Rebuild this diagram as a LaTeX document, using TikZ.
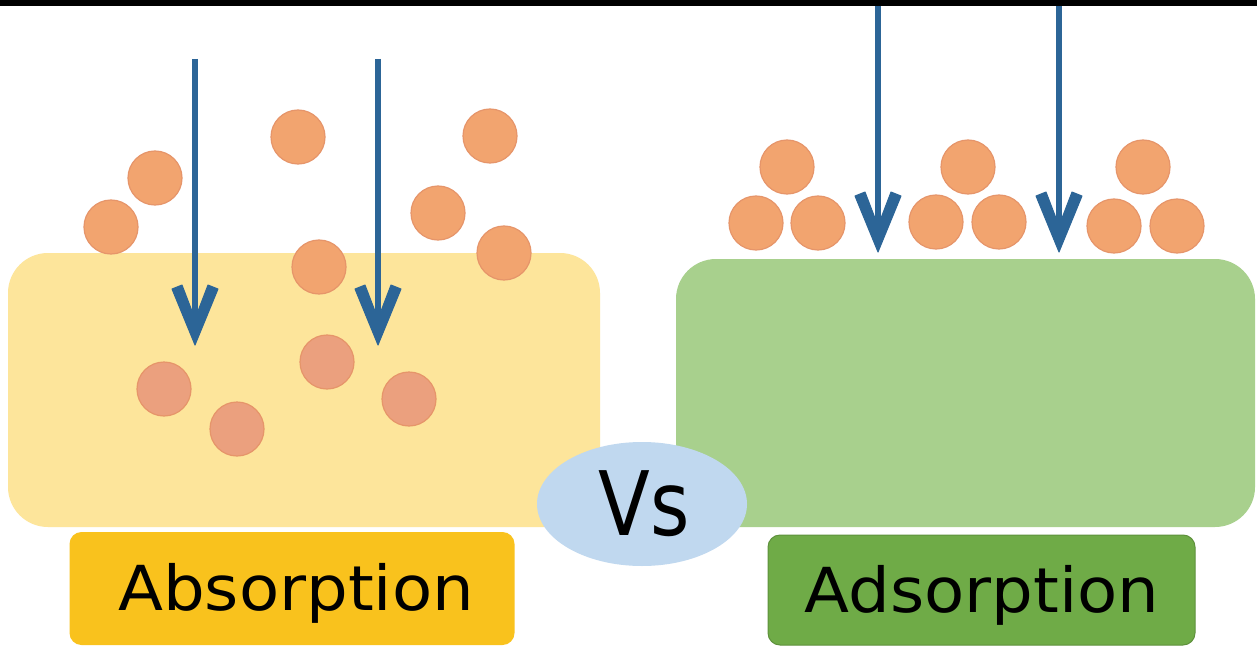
\documentclass[tikz,border=0pt]{standalone}
\usepackage{fontspec}
\setmainfont{DejaVu Sans}
\usetikzlibrary{shapes.geometric}
\definecolor{pale}{HTML}{FDE59B}
\definecolor{palegreen}{HTML}{A8D08D}
\definecolor{labyellow}{HTML}{F9C21D}
\definecolor{labgreen}{HTML}{6FAB47}
\definecolor{ballc}{HTML}{F2A46F}
\definecolor{ballin}{HTML}{EBA07E}
\definecolor{ballline}{HTML}{E6956A}
\definecolor{arrowc}{HTML}{2C6597}
\definecolor{vsblue}{HTML}{C0D8EF}
\tikzset{
  ball/.style={circle, fill=ballc, draw=ballline, line width=1.2pt, minimum size=54pt, inner sep=0pt},
  ballinside/.style={ball, fill=ballin},
  shaft/.style={draw=arrowc, line width=6pt},
  vhead/.style={fill=arrowc, draw=arrowc, line width=1pt, line join=round},
  slab/.style={rounded corners=40pt, inner sep=0pt},
  labelbox/.style={rectangle, rounded corners=12pt, inner sep=0pt},
  labeltext/.style={font=\fontsize{62}{70}\selectfont, text=black, inner sep=0pt, anchor=base, xscale=1.06},
}
\begin{document}
\begin{tikzpicture}[x=1pt,y=-1pt]
\useasboundingbox (0,0) rectangle (1257,647);
\fill[white] (0,0) rectangle (1257,647);
\fill[black] (0,0) rectangle (1257,6);
% slabs
\node[slab, fill=pale, minimum width=592pt, minimum height=274pt] (absslab) at (304,390) {};
\node[slab, fill=palegreen, minimum width=579pt, minimum height=268pt] (adsslab) at (965.5,393) {};
% label boxes
\node[labelbox, fill=labyellow, minimum width=445pt, minimum height=113pt] (absbox) at (292,588.5) {};
\node[labelbox, fill=labgreen, draw=labgreen!85!black, line width=1pt, minimum width=427pt, minimum height=110pt] (adsbox) at (981.5,590) {};
\node[labeltext] (abstext) at (296,610) {Absorption};
\node[labeltext] (adstext) at (982,612) {Adsorption};
% Vs
\node[ellipse, fill=vsblue, minimum width=210pt, minimum height=124pt, inner sep=0pt] (vs) at (642,504) {};
\node[font=\fontsize{89}{96}\selectfont, inner sep=0pt, anchor=base, xscale=0.85] (vstext) at (644,535) {Vs};
% left particles (outside)
\node[ball] (l1) at (111,227) {};
\node[ball] (l2) at (155,178) {};
\node[ball] (l3) at (298,137) {};
\node[ball] (l4) at (319,267) {};
\node[ball] (l5) at (490,136) {};
\node[ball] (l6) at (438,213) {};
\node[ball] (l7) at (504,253) {};
% left particles (inside)
\node[ballinside] (i1) at (164,389) {};
\node[ballinside] (i2) at (237,429) {};
\node[ballinside] (i3) at (327,362) {};
\node[ballinside] (i4) at (409,399) {};
% right particles
\node[ball] (r1) at (787,167) {};
\node[ball] (r2) at (756,223) {};
\node[ball] (r3) at (818,223) {};
\node[ball] (r4) at (968,167) {};
\node[ball] (r5) at (936,222) {};
\node[ball] (r6) at (999,222) {};
\node[ball] (r7) at (1143,167) {};
\node[ball] (r8) at (1114,226) {};
\node[ball] (r9) at (1177,226) {};
% arrows
\coordinate (a1s) at (195,59);  \coordinate (a1t) at (195,345);
\coordinate (a2s) at (378,59);  \coordinate (a2t) at (378,345);
\coordinate (a3s) at (878,6);   \coordinate (a3t) at (878,252);
\coordinate (a4s) at (1059,6);  \coordinate (a4t) at (1059,252);
\foreach \s/\t in {a1s/a1t, a2s/a2t, a3s/a3t, a4s/a4t}{
  \draw[shaft] (\s) -- ([yshift=25pt]\t);
  \draw[vhead] (\t) -- ([xshift=-23pt,yshift=56pt]\t) -- ([xshift=-13pt,yshift=60pt]\t)
     -- ([yshift=26pt]\t) -- ([xshift=13pt,yshift=60pt]\t) -- ([xshift=23pt,yshift=56pt]\t) -- cycle;
}
\end{tikzpicture}
\end{document}
